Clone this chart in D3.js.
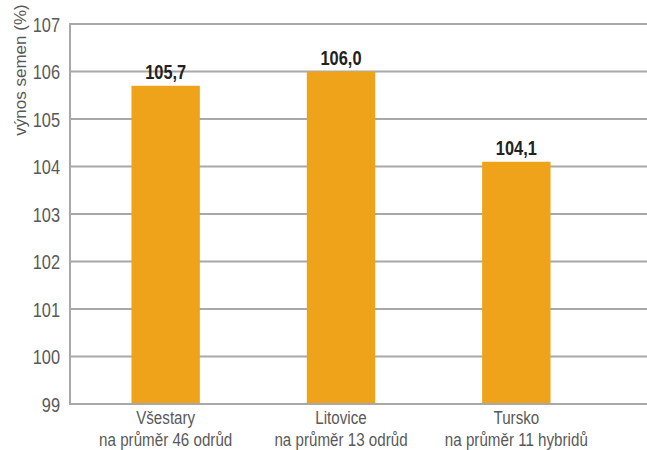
<!DOCTYPE html>
<html>
<head>
<meta charset="utf-8">
<script src="https://cdn.jsdelivr.net/npm/d3@7"></script>
<style>
  html, body { margin: 0; padding: 0; background: #fff; }
  svg { display: block; }
  text { font-family: "Liberation Sans", Arial, sans-serif; }
</style>
</head>
<body>
<svg id="chart" width="647" height="450"></svg>
<script>
const categories = ["Všestary", "Litovice", "Tursko"];
const subLabels = ["na průměr 46 odrůd", "na průměr 13 odrůd", "na průměr 11 hybridů"];
const values = [105.7, 106.0, 104.1];
const valueLabels = ["105,7", "106,0", "104,1"];
const yTicks = [99, 100, 101, 102, 103, 104, 105, 106, 107];
const yTitle = "výnos semen (%)";

const svg = d3.select("#chart");
const plotLeft = 70, plotRight = 647, plotTop = 24, plotBottom = 404;
const NARROW = 0.82;

const y = d3.scaleLinear().domain([99, 107]).range([plotBottom, plotTop]);
const x = d3.scaleBand().domain(categories).range([78, 604])
  .paddingInner(0.61).paddingOuter(0.305);

const gridColor = "#a8a8aa";
const textColor = "#595959";

// gridlines
svg.append("g").selectAll("line").data(yTicks).join("line")
  .attr("x1", plotLeft).attr("x2", plotRight)
  .attr("y1", d => y(d)).attr("y2", d => y(d))
  .attr("stroke", gridColor).attr("stroke-width", 2);

// left axis line
svg.append("line")
  .attr("x1", plotLeft).attr("x2", plotLeft)
  .attr("y1", y(107) - 1).attr("y2", y(99) + 1)
  .attr("stroke", gridColor).attr("stroke-width", 2);

// y axis tick labels
const yAxis = d3.axisLeft(y).tickValues(yTicks).tickSize(0).tickPadding(12.2).tickFormat(d3.format("d"));
const gy = svg.append("g").attr("transform", `translate(${plotLeft},0)`).call(yAxis);
gy.select(".domain").remove();
gy.selectAll("text")
  .attr("fill", textColor)
  .attr("transform", `scale(${NARROW},1)`)
  .attr("dy", "0.36em")
  .style("font-size", "20px")
  .style("font-family", '"Liberation Sans", Arial, sans-serif');

// bars
svg.append("g").selectAll("rect").data(values).join("rect")
  .attr("x", (d, i) => x(categories[i]))
  .attr("width", x.bandwidth())
  .attr("y", d => y(d))
  .attr("height", d => y(99) - y(d))
  .attr("fill", "#efa31a");

// redraw baseline on top of bars
svg.append("line")
  .attr("x1", plotLeft).attr("x2", plotRight)
  .attr("y1", y(99)).attr("y2", y(99))
  .attr("stroke", gridColor).attr("stroke-width", 2);

// value labels
svg.append("g").selectAll("text").data(values).join("text")
  .attr("transform", (d, i) => `translate(${x(categories[i]) + x.bandwidth() / 2},${y(d) - 7}) scale(${NARROW},1)`)
  .attr("text-anchor", "middle")
  .attr("fill", "#222222")
  .style("font-size", "20px")
  .style("font-weight", "bold")
  .text((d, i) => valueLabels[i]);

// category labels
const cat = svg.append("g").selectAll("text").data(categories).join("text")
  .attr("transform", d => `translate(${x(d) + x.bandwidth() / 2},0) scale(0.82,1)`)
  .attr("text-anchor", "middle")
  .attr("fill", textColor)
  .style("font-size", "18.5px");
cat.append("tspan")
  .attr("x", 0)
  .attr("y", 424)
  .text(d => d);
cat.append("tspan")
  .attr("x", 0)
  .attr("y", 446)
  .text((d, i) => subLabels[i]);

// y title
svg.append("text")
  .attr("transform", `translate(26,70) rotate(-90)`)
  .attr("text-anchor", "middle")
  .attr("fill", textColor)
  .style("font-size", "17px")
  .text(yTitle);
</script>
</body>
</html>
